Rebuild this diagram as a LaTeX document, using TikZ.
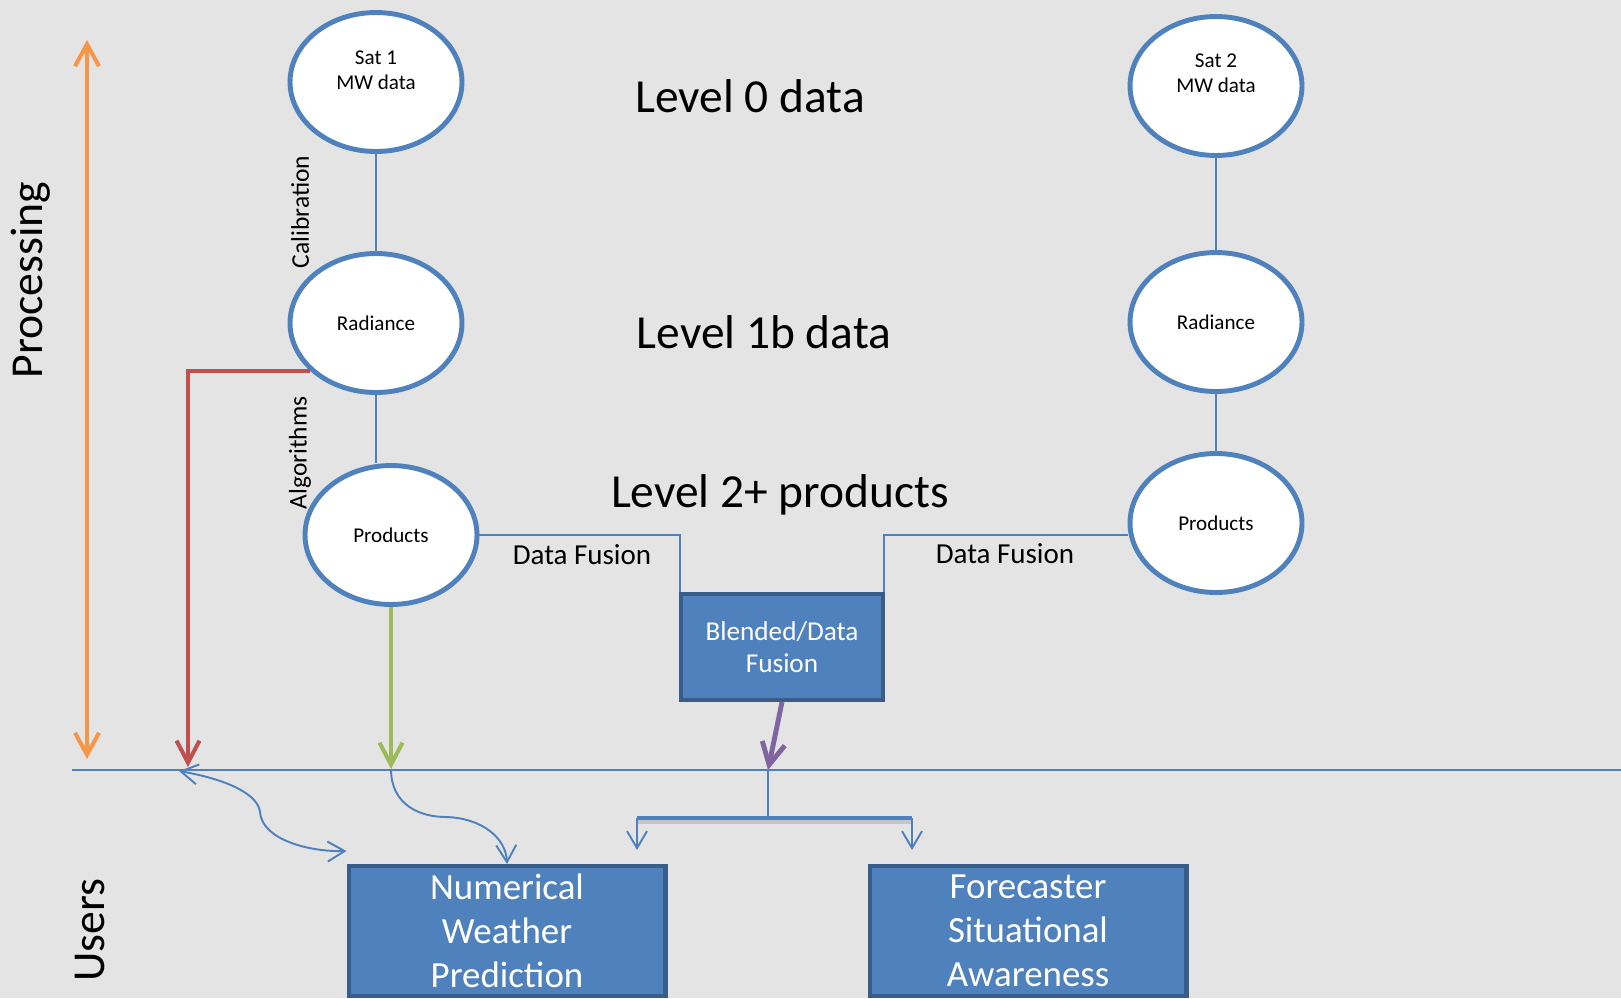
\documentclass[tikz,border=0pt]{standalone}
\usepackage{fontspec}
\setmainfont{Carlito}
\usetikzlibrary{shapes.geometric,arrows.meta}
\definecolor{bgray}{RGB}{228,228,228}
\definecolor{ublue}{RGB}{79,129,189}
\definecolor{dblue}{RGB}{56,93,138}
\definecolor{ured}{RGB}{192,80,77}
\definecolor{ugreen}{RGB}{155,187,89}
\definecolor{uorange}{RGB}{247,150,70}
\definecolor{upurple}{RGB}{128,100,162}
\tikzset{
  satnode/.style={ellipse,draw=ublue,line width=2.8pt,fill=white,minimum width=3.44cm,minimum height=2.78cm,inner sep=0pt,font=\fontsize{12}{14}\selectfont,align=center},
  userbox/.style={rectangle,draw=dblue,line width=2.3pt,fill=ublue,text=white,align=center,inner sep=0pt},
  link/.style={draw=ublue,line width=1.1pt},
  flow/.style={line width=2.3pt,-{Straight Barb[length=4.4mm,width=4.6mm]}},
  userarrow/.style={link,-{Straight Barb[length=3.4mm,width=4mm]}},
  userboth/.style={link,{Straight Barb[length=3.4mm,width=4mm]}-{Straight Barb[length=3.4mm,width=4mm]}},
  leveltext/.style={font=\fontsize{27}{32}\selectfont},
  sidetext/.style={font=\fontsize{26}{30}\selectfont,rotate=90},
  steptext/.style={font=\fontsize{14.5}{17}\selectfont,rotate=90},
}
\begin{document}
\begin{tikzpicture}[x=0.02cm,y=-0.02cm]
        \path[use as bounding box,fill=bgray] (0,0) rectangle (1621,998);

        \node[satnode] (sat1) at (376,82) {};
        \node[font=\fontsize{12}{14}\selectfont,align=center] (sat1txt) at ([yshift=0.24cm]sat1.center) {Sat 1\\MW data};
        \node[satnode] (rad1) at (376,323) {Radiance};
        \node[satnode] (prod1) at (391,535) {Products};

        \node[satnode] (sat2) at (1216,86) {};
        \node[font=\fontsize{12}{14}\selectfont,align=center] (sat2txt) at ([yshift=0.25cm]sat2.center) {Sat 2\\MW data};
        \node[satnode] (rad2) at (1216,322) {Radiance};
        \node[satnode] (prod2) at (1216,523) {Products};

        \node[leveltext] (lvl0) at (750,96) {Level 0 data};
        \node[leveltext] (lvl1) at (764,332) {Level 1b data};
        \node[leveltext] (lvl2) at (780,495) {Level 2+ products};

        \node[steptext] (calib) at (300,212) {Calibration};
        \node[steptext] (algo) at (300,453) {Algorithms};
        \node[sidetext] (proc) at (31,280) {Processing};
        \node[sidetext] (users) at (90,930) {Users};

        \node[userbox,minimum width=4.04cm,minimum height=2.12cm,font=\fontsize{15.5}{18}\selectfont] (blend) at (782,647) {Blended/Data\\Fusion};
        \node[userbox,minimum width=6.34cm,minimum height=2.6cm,font=\fontsize{21}{25.2}\selectfont] (nwp) at (507,931) {Numerical\\Weather\\Prediction};
        \node[userbox,minimum width=6.34cm,minimum height=2.6cm,font=\fontsize{21}{25.2}\selectfont] (frc) at (1028,931) {Forecaster\\Situational\\Awareness};

        \draw[link] (sat1) -- (rad1);
        \draw[link] (rad1.south) -- (rad1.south |- prod1.north);
        \draw[link] (sat2) -- (rad2);
        \draw[link] (rad2) -- (prod2);

        \draw[link] (prod1.east) -| ([xshift=0.02cm]blend.north west);
        \draw[link] (prod2.west |- prod1.east) -| ([xshift=-0.02cm]blend.north east);
        \node[font=\fontsize{16.5}{20}\selectfont] (fuse1) at (582,555) {Data Fusion};
        \node[font=\fontsize{16.5}{20}\selectfont] (fuse2) at (1005,554) {Data Fusion};

        \coordinate (lineL) at (72,770);
        \coordinate (lineR) at (1621,770);
        \coordinate (orgtop) at (87,40);
        \coordinate (orgbot) at (87,759);
        \coordinate (redtip) at (188,767);
        \coordinate (greentip) at (391,769);
        \coordinate (split) at (768,770);
        \coordinate (brl) at (637,818);
        \coordinate (brr) at (912,818);
        \coordinate (userL) at (179,771);

        \draw[link] (lineL) -- (lineR);
        \draw[uorange,line width=2.3pt,{Straight Barb[length=4.4mm,width=4.8mm]}-{Straight Barb[length=4.4mm,width=4.8mm]}] (orgbot) -- (orgtop);
        \draw[flow,ured] (rad1.216) -| (redtip);
        \draw[flow,ugreen] (prod1.south) -- (greentip);
        \draw[flow,upurple,line width=2.8pt] (blend.south) -- (split);

        \draw[link] (split) -- (split |- brl);
        \draw[gray,opacity=0.3,line width=3pt] ([yshift=-0.07cm]brl) -- ([yshift=-0.07cm]brr);
        \draw[ublue,line width=2.8pt] (brl) -- (brr);
        \draw[userarrow] (brl) -- ([yshift=0.28cm]brl |- nwp.north);
        \draw[userarrow] (brr) -- ([yshift=0.28cm]brr |- frc.north);

        \draw[userboth] (userL) .. controls (230,780) and (258,795) .. (260,812) .. controls (262,840) and (310,852) .. ([yshift=0.26cm]nwp.north west);
        \draw[userarrow] (greentip) .. controls (391,805) and (420,817) .. (446,817) .. controls (482,818) and (506,838) .. (nwp.north);
        \end{tikzpicture}
\end{document}
